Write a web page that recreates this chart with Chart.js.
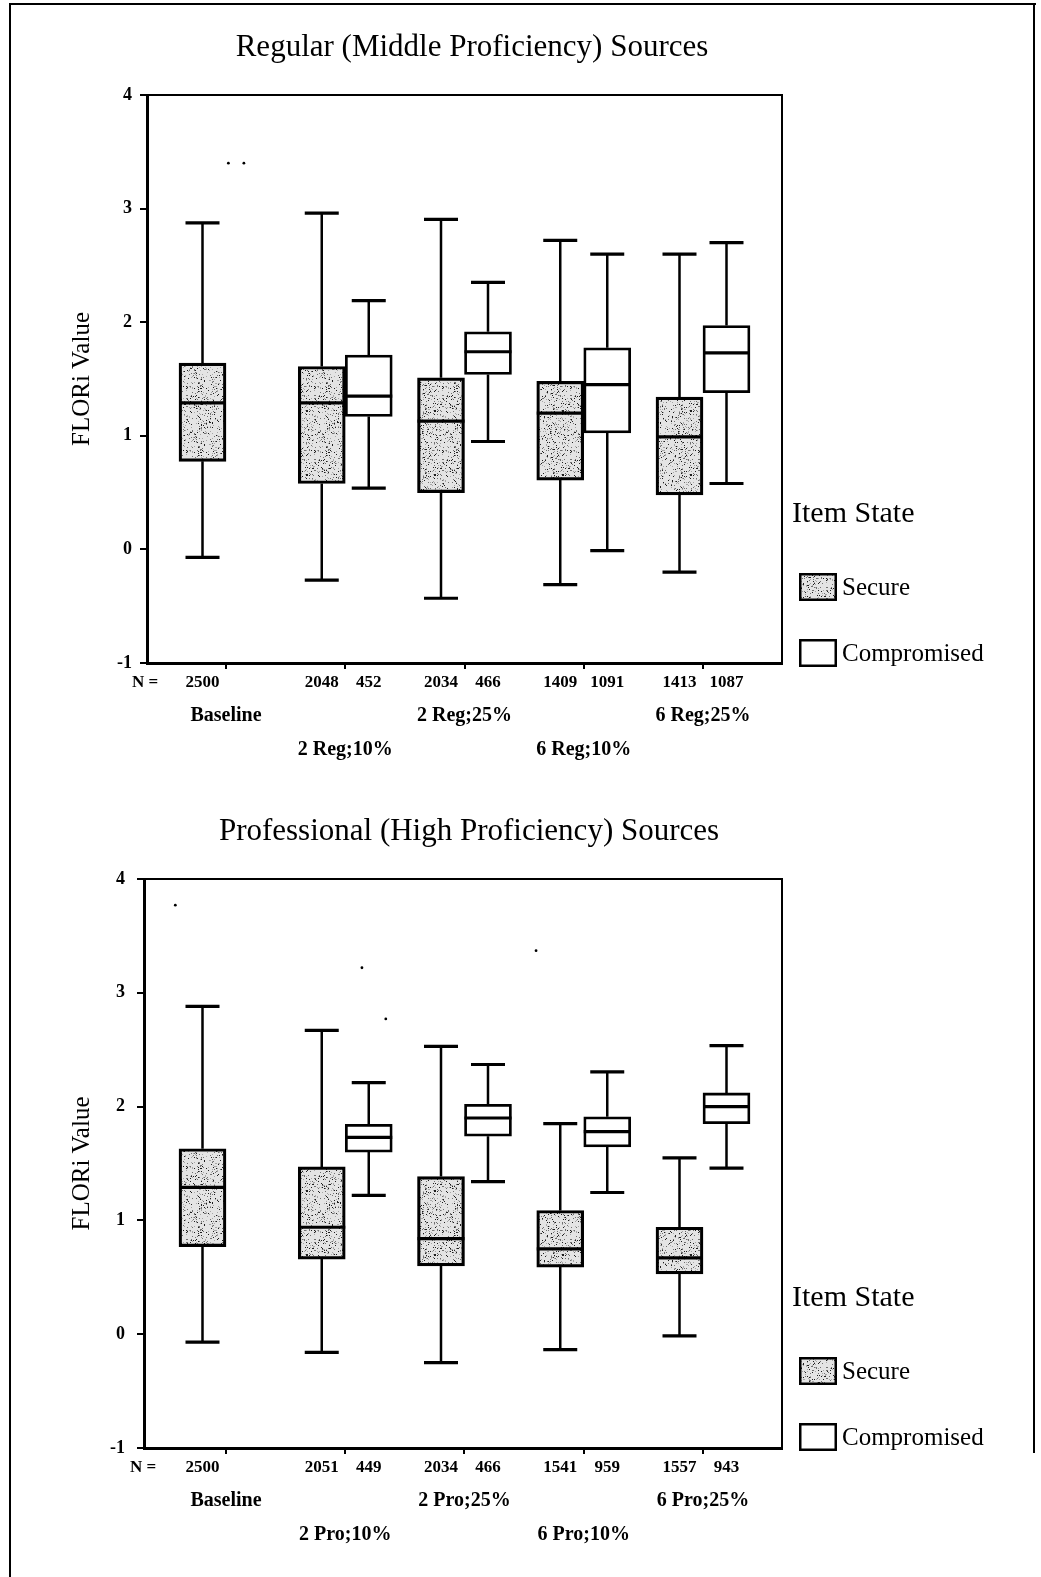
<!DOCTYPE html>
<html><head><meta charset="utf-8">
<script src="https://cdn.jsdelivr.net/npm/chart.js@4.4.1/dist/chart.umd.min.js"></script>
<style>
html,body{margin:0;padding:0;background:#fff;}
#page{position:relative;width:1041px;height:1577px;overflow:hidden;background:#fff;}
canvas{position:absolute;left:0;}
#c1{top:0;}
#c2{top:780px;}
.frame{position:absolute;background:#000;}
</style></head><body>
<div id="page">
<canvas id="c1" width="1041" height="780"></canvas>
<canvas id="c2" width="1041" height="797"></canvas>
<div class="frame" style="left:9px;top:3px;width:2px;height:1574px"></div>
<div class="frame" style="left:9px;top:3px;width:1027px;height:2px"></div>
<div class="frame" style="left:1033px;top:3px;width:2px;height:1450px"></div>
</div>
<script>
// ---------- shared texts ----------
const yAxisTitle = 'FLORi Value';
const legendTitle = 'Item State';
const seriesNames = ['Secure', 'Compromised'];
const nPrefix = 'N =';
const yTicks = [-1, 0, 1, 2, 3, 4];

// ---------- top chart: Regular (Middle Proficiency) ----------
const regTitle = 'Regular (Middle Proficiency) Sources';
const regGroups = ['Baseline', '2 Reg;10%', '2 Reg;25%', '6 Reg;10%', '6 Reg;25%'];
const regSecureMin = [-0.07, -0.27, -0.43, -0.31, -0.20];
const regSecureQ1  = [0.775, 0.58, 0.50, 0.61, 0.48];
const regSecureMed = [1.29, 1.29, 1.13, 1.20, 0.99];
const regSecureQ3  = [1.64, 1.61, 1.51, 1.48, 1.34];
const regSecureMax = [2.875, 2.96, 2.905, 2.72, 2.60];
const regSecureN   = [2500, 2048, 2034, 1409, 1413];
const regCompMin = [null, 0.54, 0.95, -0.01, 0.58];
const regCompQ1  = [null, 1.17, 1.54, 1.025, 1.38];
const regCompMed = [null, 1.35, 1.74, 1.45, 1.73];
const regCompQ3  = [null, 1.71, 1.915, 1.775, 1.97];
const regCompMax = [null, 2.19, 2.35, 2.60, 2.70];
const regCompN   = [null, 452, 466, 1091, 1087];
const regOutlierX = [0.02, 0.15];
const regOutlierY = [3.40, 3.40];

// ---------- bottom chart: Professional (High Proficiency) ----------
const proTitle = 'Professional (High Proficiency) Sources';
const proGroups = ['Baseline', '2 Pro;10%', '2 Pro;25%', '6 Pro;10%', '6 Pro;25%'];
const proSecureMin = [-0.07, -0.16, -0.25, -0.135, -0.015];
const proSecureQ1  = [0.77, 0.66, 0.60, 0.59, 0.53];
const proSecureMed = [1.29, 0.94, 0.84, 0.75, 0.67];
const proSecureQ3  = [1.63, 1.47, 1.385, 1.087, 0.94];
const proSecureMax = [2.88, 2.67, 2.53, 1.85, 1.55];
const proSecureN   = [2500, 2051, 2034, 1541, 1557];
const proCompMin = [null, 1.22, 1.34, 1.245, 1.46];
const proCompQ1  = [null, 1.60, 1.74, 1.645, 1.85];
const proCompMed = [null, 1.73, 1.90, 1.78, 2.00];
const proCompQ3  = [null, 1.845, 2.02, 1.91, 2.12];
const proCompMax = [null, 2.21, 2.37, 2.305, 2.535];
const proCompN   = [null, 449, 466, 959, 943];
const proOutlierX = [-0.425, 1.14, 1.34, 2.60];
const proOutlierY = [3.77, 3.22, 2.77, 3.37];

const SERIF = "'Liberation Serif', serif";

// stippled grey texture (deterministic hash, purely decorative)
function makeStipple(ctx) {
  const c = document.createElement('canvas');
  c.width = 64; c.height = 64;
  const g = c.getContext('2d');
  g.fillStyle = '#e4e4e4';
  g.fillRect(0, 0, 64, 64);
  let s = 987654321;
  const hash = () => { s = (s * 1103515245 + 12345) % 2147483648; return s / 2147483648; };
  for (let i = 0; i < 700; i++) {
    const x = Math.floor(hash() * 64), y = Math.floor(hash() * 64), t = hash();
    g.fillStyle = t < 0.3 ? '#1e1e1e' : (t < 0.6 ? '#707070' : '#a8a8a8');
    g.fillRect(x, y, 1, 1);
  }
  return ctx.createPattern(c, 'repeat');
}

function boxData(min, q1, med, q3, max, n) {
  const out = [];
  q1.forEach((v, i) => {
    if (v === null) return;
    out.push({ x: i, y: [q1[i], q3[i]], min: min[i], med: med[i], max: max[i], n: n[i] });
  });
  return out;
}

const boxPlugin = {
  id: 'boxWhiskers',
  afterDatasetsDraw(chart) {
    const ctx = chart.ctx, ys = chart.scales.y;
    chart.data.datasets.forEach((ds, di) => {
      if (ds.type === 'scatter') return;
      const meta = chart.getDatasetMeta(di);
      meta.data.forEach((el, j) => {
        const r = ds.data[j];
        const cx = el.x, hw = el.width / 2;
        const pMin = ys.getPixelForValue(r.min), pMax = ys.getPixelForValue(r.max);
        const pMed = ys.getPixelForValue(r.med);
        const pQ1 = ys.getPixelForValue(r.y[0]), pQ3 = ys.getPixelForValue(r.y[1]);
        ctx.save();
        ctx.strokeStyle = '#000';
        ctx.lineWidth = 2.5;
        ctx.beginPath();
        ctx.moveTo(cx, pQ3); ctx.lineTo(cx, pMax);
        ctx.moveTo(cx, pQ1); ctx.lineTo(cx, pMin);
        ctx.stroke();
        ctx.lineWidth = 3.2;
        ctx.beginPath();
        ctx.moveTo(cx - 17, pMax); ctx.lineTo(cx + 17, pMax);
        ctx.moveTo(cx - 17, pMin); ctx.lineTo(cx + 17, pMin);
        ctx.moveTo(cx - hw, pMed); ctx.lineTo(cx + hw, pMed);
        ctx.stroke();
        ctx.restore();
      });
    });
  }
};

const decorPlugin = {
  id: 'decor',
  afterDraw(chart) {
    const ctx = chart.ctx, a = chart.chartArea, cfg = chart.options.plugins.decor;
    const xs = chart.scales.x;
    ctx.save();
    // top and right frame lines
    ctx.strokeStyle = '#000';
    ctx.lineWidth = 2;
    ctx.beginPath();
    ctx.moveTo(a.left, a.top); ctx.lineTo(a.right, a.top); ctx.lineTo(a.right, a.bottom);
    ctx.stroke();
    ctx.fillStyle = '#000';
    // title
    ctx.font = '31px ' + SERIF;
    ctx.textAlign = 'center'; ctx.textBaseline = 'middle';
    ctx.fillText(cfg.title, cfg.titleX, cfg.titleY);
    // y axis title
    ctx.save();
    ctx.translate(82, (a.top + a.bottom) / 2);
    ctx.rotate(-Math.PI / 2);
    ctx.font = '25px ' + SERIF;
    ctx.fillText(yAxisTitle, 0, 0);
    ctx.restore();
    // N row
    ctx.font = 'bold 17px ' + SERIF;
    ctx.textAlign = 'left';
    ctx.fillText(nPrefix, cfg.nLeft, a.bottom + 20);
    ctx.textAlign = 'center';
    chart.data.datasets.forEach((ds, di) => {
      if (ds.type === 'scatter') return;
      const meta = chart.getDatasetMeta(di);
      meta.data.forEach((el, j) => {
        ctx.fillText(String(ds.data[j].n), el.x, a.bottom + 20);
      });
    });
    // group labels (alternating rows)
    ctx.font = 'bold 20px ' + SERIF;
    cfg.groups.forEach((g, i) => {
      const px = xs.getPixelForValue(i);
      ctx.fillText(g, px, a.bottom + (i % 2 === 0 ? 53 : 87));
    });
    // legend
    ctx.textAlign = 'left';
    ctx.font = '30px ' + SERIF;
    ctx.fillText(legendTitle, a.right + 10, a.top + 419);
    const sw = [{ y: a.top + 478, fill: cfg.stipple }, { y: a.top + 544, fill: '#fff' }];
    sw.forEach((s, i) => {
      const x = a.right + 17;
      ctx.fillStyle = s.fill;
      ctx.fillRect(x, s.y, 38, 28);
      ctx.lineWidth = 2.5;
      ctx.strokeStyle = '#000';
      ctx.strokeRect(x + 1.25, s.y + 1.25, 35.5, 25.5);
      ctx.fillStyle = '#000';
      ctx.font = '25px ' + SERIF;
      ctx.fillText(seriesNames[i], a.right + 60, s.y + 15);
    });
    ctx.restore();
  }
};

function buildChart(id, cfg) {
  const canvas = document.getElementById(id);
  const ctx = canvas.getContext('2d');
  const stipple = makeStipple(ctx);
  const groupPositions = cfg.groups.map((_, i) => i);
  return new Chart(ctx, {
    type: 'bar',
    data: {
      datasets: [
        {
          label: seriesNames[0],
          data: boxData(cfg.sMin, cfg.sQ1, cfg.sMed, cfg.sQ3, cfg.sMax, cfg.sN),
          backgroundColor: stipple, borderColor: '#000', borderWidth: 3.2,
          borderSkipped: false, barThickness: 47
        },
        {
          label: seriesNames[1],
          data: boxData(cfg.cMin, cfg.cQ1, cfg.cMed, cfg.cQ3, cfg.cMax, cfg.cN),
          backgroundColor: '#fff', borderColor: '#000', borderWidth: 2.8,
          borderSkipped: false, barThickness: 47
        },
        {
          type: 'scatter',
          label: 'outliers',
          data: cfg.oX.map((x, i) => ({ x: x, y: cfg.oY[i] })),
          pointRadius: 1.4, pointBackgroundColor: '#000', pointBorderWidth: 0
        }
      ]
    },
    options: {
      responsive: false, animation: false, devicePixelRatio: 1,
      layout: { padding: { top: cfg.padTop, left: 0, right: 1041 - 782, bottom: 0 } },
      plugins: {
        legend: { display: false }, tooltip: { enabled: false }, title: { display: false },
        decor: { title: cfg.title, titleX: cfg.titleX, titleY: cfg.titleY, groups: cfg.groups, stipple: stipple, nLeft: cfg.nLeft }
      },
      scales: {
        x: {
          type: 'linear', min: cfg.xMin, max: 4.6625, offset: false,
          afterBuildTicks: s => { s.ticks = groupPositions.map(v => ({ value: v })); },
          afterFit: s => { s.height = cfg.xAxisHeight; },
          ticks: { display: false },
          grid: { display: true, offset: false, drawOnChartArea: false, drawTicks: true, tickLength: 6, color: '#000', lineWidth: 2 },
          border: { display: true, color: '#000', width: 3 }
        },
        y: {
          type: 'linear', min: -1, max: 4,
          afterBuildTicks: s => { s.ticks = yTicks.map(v => ({ value: v })); },
          afterFit: s => { s.width = cfg.yAxisWidth; },
          ticks: {
            color: '#000', padding: cfg.tickPad,
            font: { family: 'Liberation Serif', size: 18, weight: 'bold' }
          },
          grid: { display: true, offset: false, drawOnChartArea: false, drawTicks: true, tickLength: 7, color: '#000', lineWidth: 2 },
          border: { display: true, color: '#000', width: 3 }
        }
      }
    },
    plugins: [boxPlugin, decorPlugin]
  });
}

buildChart('c1', {
  title: regTitle, titleX: 472, titleY: 48, groups: regGroups,
  sMin: regSecureMin, sQ1: regSecureQ1, sMed: regSecureMed, sQ3: regSecureQ3, sMax: regSecureMax, sN: regSecureN,
  cMin: regCompMin, cQ1: regCompQ1, cMed: regCompMed, cQ3: regCompQ3, cMax: regCompMax, cN: regCompN,
  oX: regOutlierX, oY: regOutlierY,
  padTop: 95, xAxisHeight: 780 - 663, yAxisWidth: 147, xMin: -0.6625, tickPad: 8, nLeft: 132
});
buildChart('c2', {
  title: proTitle, titleX: 469, titleY: 52, groups: proGroups,
  sMin: proSecureMin, sQ1: proSecureQ1, sMed: proSecureMed, sQ3: proSecureQ3, sMax: proSecureMax, sN: proSecureN,
  cMin: proCompMin, cQ1: proCompQ1, cMed: proCompMed, cQ3: proCompQ3, cMax: proCompMax, cN: proCompN,
  oX: proOutlierX, oY: proOutlierY,
  padTop: 99, xAxisHeight: 797 - 668, yAxisWidth: 144, xMin: -0.6876, tickPad: 12, nLeft: 130
});
</script>
</body></html>
